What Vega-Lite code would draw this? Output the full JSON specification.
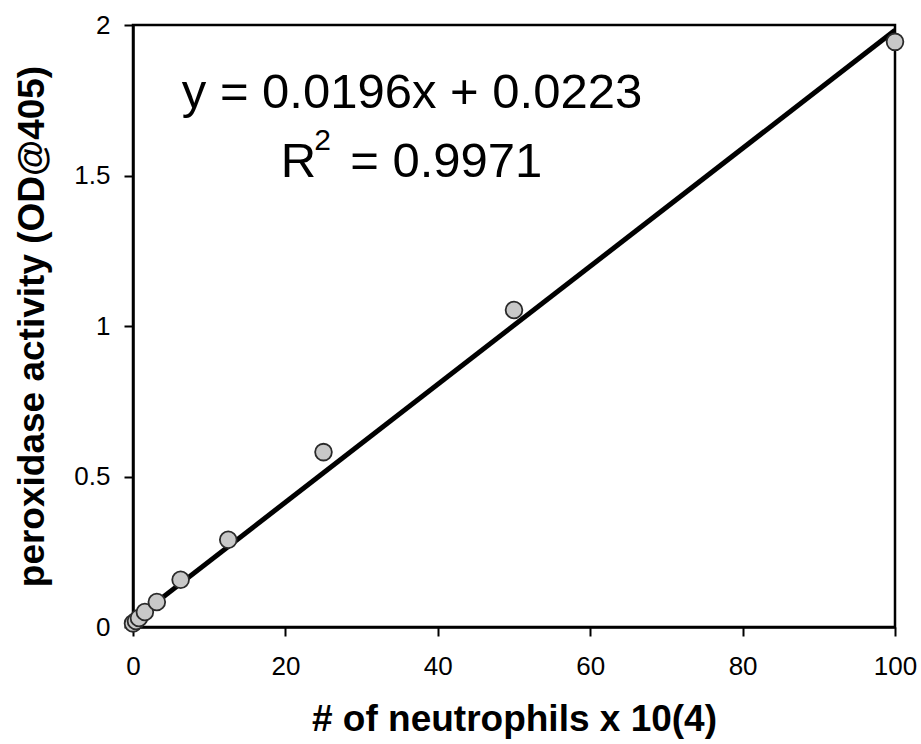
{
  "$schema": "https://vega.github.io/schema/vega-lite/v6.json",
  "width": 762,
  "height": 602,
  "autosize": {"type": "none"},
  "padding": {"left": 133, "top": 25, "right": 26, "bottom": 117},
  "background": "white",
  "config": {
    "font": "Liberation Sans",
    "view": {"stroke": "black", "strokeWidth": 2.5},
    "axis": {
      "grid": false,
      "domainColor": "black",
      "domainWidth": 2.5,
      "tickColor": "black",
      "tickWidth": 2,
      "tickSize": 9,
      "labelFlush": false,
      "labelColor": "black",
      "labelFont": "Liberation Sans",
      "labelFontSize": 26,
      "titleColor": "black",
      "titleFont": "Liberation Sans",
      "titleFontSize": 37,
      "titleFontWeight": "bold"
    }
  },
  "datasets": {
    "points": [
      {"x": 0, "y": 0.012},
      {"x": 0.39, "y": 0.02},
      {"x": 0.78, "y": 0.03},
      {"x": 1.56, "y": 0.05},
      {"x": 3.125, "y": 0.083},
      {"x": 6.25, "y": 0.157},
      {"x": 12.5, "y": 0.29},
      {"x": 25, "y": 0.581},
      {"x": 50, "y": 1.053},
      {"x": 100, "y": 1.944}
    ],
    "fit": [
      {"x": 0, "y": 0.0223},
      {"x": 100, "y": 1.9823}
    ],
    "labels": [
      {"x": 6.4, "y": 1.724, "text": "y = 0.0196x + 0.0223", "size": "big"},
      {"x": 19.4, "y": 1.495, "text": "R", "size": "big"},
      {"x": 23.8, "y": 1.585, "text": "2", "size": "small"},
      {"x": 28.5, "y": 1.495, "text": "= 0.9971", "size": "big"}
    ]
  },
  "encoding": {
    "x": {
      "field": "x",
      "type": "quantitative",
      "scale": {"domain": [0, 100], "nice": false},
      "axis": {
        "values": [0, 20, 40, 60, 80, 100],
        "title": "# of neutrophils x 10(4)",
        "labelPadding": 17,
        "titlePadding": 22
      }
    },
    "y": {
      "field": "y",
      "type": "quantitative",
      "scale": {"domain": [0, 2], "nice": false},
      "axis": {
        "values": [0, 0.5, 1, 1.5, 2],
        "format": "~g",
        "title": "peroxidase activity (OD@405)",
        "labelPadding": 14,
        "titlePadding": 22
      }
    }
  },
  "layer": [
    {
      "data": {"name": "fit"},
      "mark": {"type": "line", "color": "black", "strokeWidth": 5, "clip": true}
    },
    {
      "data": {"name": "points"},
      "mark": {"type": "point", "filled": true, "fill": "#c8c8c8", "stroke": "#2a2a2a", "strokeWidth": 1.8, "size": 280, "opacity": 1, "shape": "circle"}
    },
    {
      "data": {"name": "labels"},
      "mark": {"type": "text", "align": "left", "baseline": "alphabetic", "color": "black", "font": "Liberation Sans"},
      "encoding": {
        "text": {"field": "text"},
        "size": {
          "field": "size",
          "type": "nominal",
          "scale": {"domain": ["big", "small"], "range": [49, 30]},
          "legend": null
        }
      }
    }
  ]
}
